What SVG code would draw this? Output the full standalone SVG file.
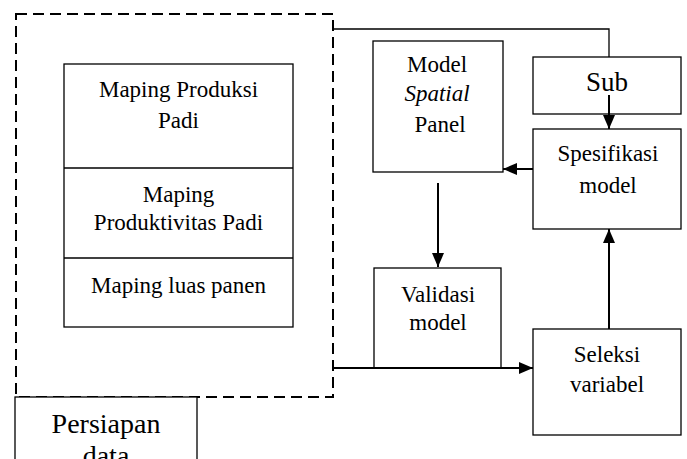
<svg xmlns="http://www.w3.org/2000/svg" width="687" height="459" viewBox="0 0 687 459">
<style>
.box{fill:#fff;stroke:#000;stroke-width:1.3}
.t{font-family:"Liberation Serif","Times New Roman",serif;font-size:23px;fill:#000;text-anchor:middle}
.big{font-size:27px}
.p{font-size:28px}
.con{fill:none;stroke:#000;stroke-width:2}
.thin{fill:none;stroke:#000;stroke-width:1.3}
</style>
<defs>
<marker id="ah" viewBox="0 0 14 12" refX="14" refY="6" markerWidth="14" markerHeight="12" markerUnits="userSpaceOnUse" orient="auto">
<path d="M0,0 L14,6 L0,12 Z" fill="#000"/>
</marker>
</defs>
<rect width="687" height="459" fill="#fff"/>
<g id="persiapan-group">
<rect x="16" y="14" width="317" height="383" fill="none" stroke="#000" stroke-width="2" stroke-dasharray="11 6"/>
</g>
<g id="maping">
<rect class="box" x="64" y="64" width="229" height="263"/>
<line class="thin" x1="64" y1="168" x2="293" y2="168"/>
<line class="thin" x1="64" y1="258" x2="293" y2="258"/>
<text class="t" x="178.5" y="97">Maping Produksi</text>
<text class="t" x="178.5" y="128">Padi</text>
<text class="t" x="178.5" y="202">Maping</text>
<text class="t" x="178.5" y="230">Produktivitas Padi</text>
<text class="t" x="178.5" y="293">Maping luas panen</text>
</g>
<g id="persiapan">
<rect class="box" x="15" y="397" width="182" height="80"/>
<text class="t p" x="106" y="433">Persiapan</text>
<text class="t p" x="106" y="465">data</text>
</g>
<g id="model">
<rect class="box" x="373" y="41" width="130" height="131"/>
<text class="t" x="437" y="72">Model</text>
<text class="t" x="437" y="101" font-style="italic">Spatial</text>
<text class="t" x="440" y="132">Panel</text>
</g>
<g id="sub">
<rect class="box" x="533" y="57" width="148" height="57"/>
<text class="t big" x="607" y="91">Sub</text>
</g>
<g id="spesifikasi">
<rect class="box" x="533" y="129" width="148" height="100"/>
<text class="t" x="608" y="161">Spesifikasi</text>
<text class="t" x="608" y="193">model</text>
</g>
<g id="validasi">
<rect class="box" x="374" y="268" width="127" height="100"/>
<text class="t" x="438" y="302">Validasi</text>
<text class="t" x="438" y="330">model</text>
</g>
<g id="seleksi">
<rect class="box" x="533" y="329" width="148" height="106"/>
<text class="t" x="607" y="362">Seleksi</text>
<text class="t" x="607" y="392">variabel</text>
</g>
<g id="connectors">
<polyline class="thin" points="333,29 609,29 609,57"/>
<line class="con" x1="609" y1="95" x2="609" y2="129" marker-end="url(#ah)"/>
<line class="con" x1="533" y1="169" x2="503" y2="169" marker-end="url(#ah)"/>
<line class="con" x1="438" y1="183" x2="438" y2="267" marker-end="url(#ah)"/>
<line class="con" x1="333" y1="368" x2="533" y2="368" marker-end="url(#ah)"/>
<line class="con" x1="609" y1="329" x2="609" y2="229" marker-end="url(#ah)"/>
</g>
</svg>
